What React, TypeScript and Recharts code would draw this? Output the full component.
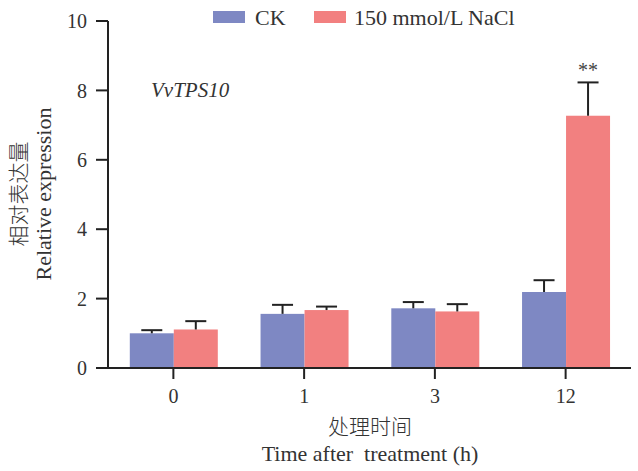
import React from 'react';
import { BarChart, Bar, XAxis, YAxis, Customized } from 'recharts';

const categories = ['0', '1', '3', '12'];
const ckValues = [1.0, 1.56, 1.72, 2.19];
const ckErrors = [0.09, 0.26, 0.18, 0.34];
const naclValues = [1.11, 1.67, 1.63, 7.27];
const naclErrors = [0.24, 0.1, 0.21, 0.96];
const significance = ['', '', '', '**'];
const yTicks = [0, 2, 4, 6, 8, 10];
const seriesNames = ['CK', '150 mmol/L NaCl'];
const geneName = 'VvTPS10';

const BLUE = '#7E88C3';
const RED = '#F28080';
const AXIS = '#222222';
const TEXT = '#333333';
const FONT = "'Liberation Serif', 'Times New Roman', 'Noto Sans CJK SC', serif";
const CJK = "'Noto Sans CJK SC', sans-serif";

const data = categories.map((c, i) => ({
  name: c,
  ck: ckValues[i],
  nacl: naclValues[i],
}));

const makeShape = (errors: number[], fill: string, sig?: string[]) => (props: any) => {
  const { x, y, width, height, index } = props;
  const value = props.payload ? (fill === BLUE ? props.payload.ck : props.payload.nacl) : 1;
  const pxPerUnit = value ? height / value : 0;
  const err = errors[index] || 0;
  const yTop = y - err * pxPerUnit;
  const cx = x + width / 2;
  const s = sig ? sig[index] : '';
  return (
    <g>
      <rect x={x} y={y} width={width} height={height} fill={fill} />
      <line x1={cx} x2={cx} y1={y} y2={yTop} stroke={AXIS} strokeWidth={2} />
      <line x1={cx - 10.5} x2={cx + 10.5} y1={yTop} y2={yTop} stroke={AXIS} strokeWidth={2} />
      {s ? (
        <text x={cx} y={yTop - 5} textAnchor="middle" fontSize={20} fontFamily={FONT} fill="#444">
          {s}
        </text>
      ) : null}
    </g>
  );
};

const Overlay = () => (
  <g fontFamily={FONT} fill={TEXT}>
    <rect x={213} y={11} width={32} height={12} fill={BLUE} />
    <text x={255} y={24.5} fontSize={22}>{seriesNames[0]}</text>
    <rect x={314} y={11} width={32} height={12} fill={RED} />
    <text x={354} y={24.5} fontSize={22}>{seriesNames[1]}</text>
    <text x={151} y={97} fontSize={21} fontStyle="italic">{geneName}</text>
    <text transform="translate(26,194) rotate(-90)" textAnchor="middle" fontSize={21} fontFamily={CJK} fontWeight={300}>相对表达量</text>
    <text transform="translate(51,194) rotate(-90)" textAnchor="middle" fontSize={22}>Relative expression</text>
    <text x={370} y={434} textAnchor="middle" fontSize={21} fontFamily={CJK} fontWeight={300}>处理时间</text>
    <text x={370} y={461} textAnchor="middle" fontSize={22} style={{ whiteSpace: 'pre' }}>Time after  treatment (h)</text>
  </g>
);

export default function App() {
  return (
    <div style={{ position: 'absolute', left: 0, top: 0, width: 638, height: 471, background: '#fff' }}>
      <BarChart
        width={638}
        height={471}
        data={data}
        margin={{ top: 21, right: 7, left: 0, bottom: 0 }}
        barCategoryGap="16.67%"
        barGap={0}
      >
        <XAxis
          dataKey="name"
          height={103}
          tickSize={11}
          tickMargin={10}
          axisLine={{ stroke: AXIS, strokeWidth: 2 }}
          tickLine={{ stroke: AXIS, strokeWidth: 2 }}
          tick={{ fontSize: 20, fontFamily: FONT, fill: TEXT }}
        />
        <YAxis
          width={108}
          domain={[0, 10]}
          ticks={yTicks}
          tickSize={12}
          tickMargin={9}
          interval={0}
          axisLine={{ stroke: AXIS, strokeWidth: 2 }}
          tickLine={{ stroke: AXIS, strokeWidth: 2 }}
          tick={{ fontSize: 20, fontFamily: FONT, fill: TEXT }}
        />
        <Bar dataKey="ck" fill={BLUE} isAnimationActive={false} shape={makeShape(ckErrors, BLUE)} />
        <Bar dataKey="nacl" fill={RED} isAnimationActive={false} shape={makeShape(naclErrors, RED, significance)} />
        <Customized component={Overlay} />
      </BarChart>
    </div>
  );
}
